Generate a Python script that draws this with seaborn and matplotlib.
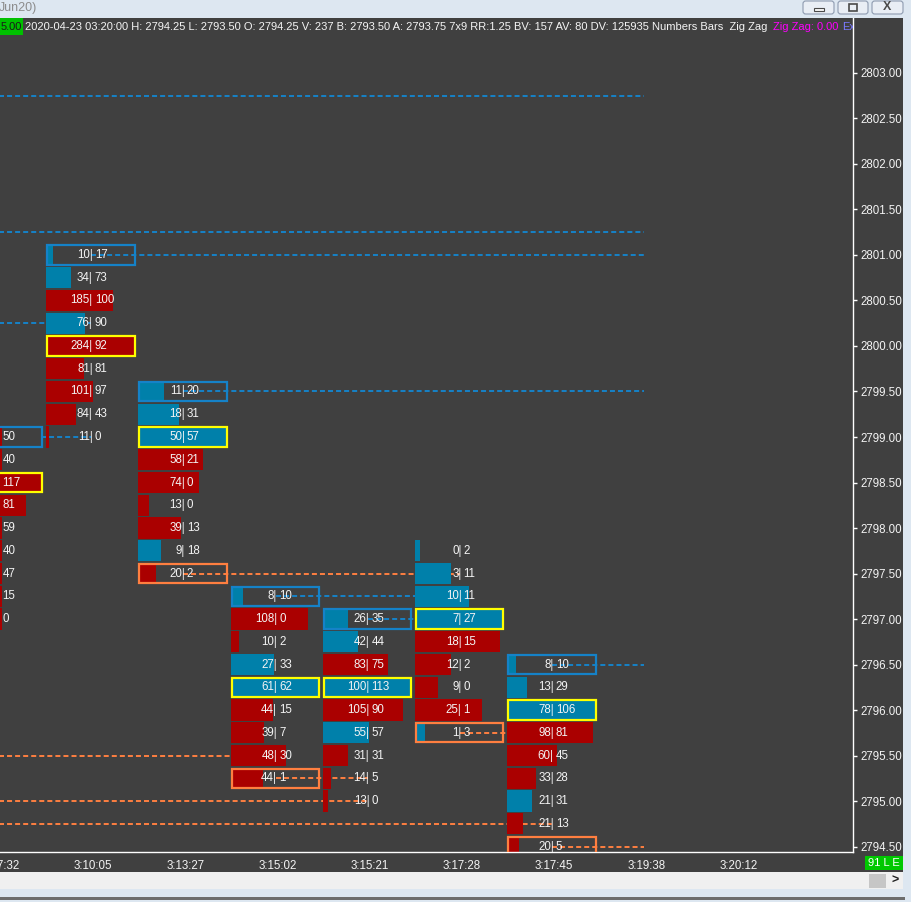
import numpy as np
import matplotlib
matplotlib.use("Agg")
import matplotlib.pyplot as plt
from matplotlib.patches import Rectangle, FancyBboxPatch
import seaborn as sns

W, H = 911, 902

# x axis (one column per bar)
times = ["3:07:32", "3:10:05", "3:13:27", "3:15:02", "3:15:21",
         "3:17:28", "3:17:45", "3:19:38", "3:20:12"]

# price of the top row of every footprint column, rows go down by 0.25
col_top = [2799.00, 2801.00, 2799.50, 2797.25, 2797.00, 2797.75, 2796.50]

# bid | ask per row (first column is cut by the left edge, its bids are guessed)
bids = [
    [96, 106, 150, 138, 87, 106, 99, 131, 146],
    [10, 34, 185, 76, 284, 81, 101, 84, 11],
    [11, 18, 50, 58, 74, 13, 39, 9, 20],
    [8, 108, 10, 27, 61, 44, 39, 48, 44],
    [26, 42, 83, 100, 105, 55, 31, 14, 13],
    [0, 3, 10, 7, 18, 12, 9, 25, 1],
    [8, 13, 78, 98, 60, 33, 21, 21, 20],
]
asks = [
    [50, 40, 117, 81, 59, 40, 47, 15, 0],
    [17, 73, 100, 90, 92, 81, 97, 43, 0],
    [20, 31, 57, 21, 0, 0, 13, 18, 2],
    [10, 0, 2, 33, 62, 15, 7, 30, 1],
    [35, 44, 75, 113, 90, 57, 31, 5, 0],
    [2, 11, 11, 27, 15, 2, 0, 1, 3],
    [10, 29, 106, 81, 45, 28, 31, 13, 5],
]
high_box = [True, True, True, True, True, False, True]
low_box = [False, False, True, True, False, True, True]

# unfinished levels: price, from column, to column
blue_price = [2802.75, 2801.25, 2801.00, 2800.25, 2799.50, 2799.00, 2797.25, 2797.00, 2796.50]
blue_from = [-1, -1, 1, -1, 2, 0.46, 3, 4, 6]
blue_to = [7, 7, 7, 1, 7, 1, 5, 5, 7]
orange_price = [2797.50, 2795.75, 2795.50, 2795.25, 2795.00, 2794.75, 2794.50]
orange_from = [2, 5, -1, 3, -1, -1, 6]
orange_to = [5, 6, 3, 4, 4, 6, 7]

price_ticks = np.arange(2794.5, 2803.01, 0.5)

BG = "#404040"
RED = "#aa0000"
BLUE = "#0080aa"
BOXBLUE = "#1582c8"
ORANGE = "#ff7f40"
YELLOW = "#ffff00"
TXT = "#f4f4f4"
LIGHT = "#dde7f1"

sns.set_theme(style="dark", rc={"axes.facecolor": BG, "figure.facecolor": BG,
                                "axes.grid": False, "lines.scale_dashes": False})
plt.rcParams["font.family"] = ["Liberation Sans", "DejaVu Sans"]

fig = plt.figure(figsize=(W / 100, H / 100), dpi=100)
ax = fig.add_axes([0, (H - 852) / H, 853 / W, (852 - 18) / H])

PX = 1 / 92.2  # one pixel in column units
ax.set_xlim(-1 * PX, 852 * PX)
ax.set_ylim(2794.440, 2803.604)

# dashed levels, below the bars
for p, a, b in zip(blue_price, blue_from, blue_to):
    ax.plot([a - 2 * PX, b - 2 * PX], [p, p], color=BOXBLUE, lw=1.4,
            dashes=(3.6, 2.2), zorder=1)
for p, a, b in zip(orange_price, orange_from, orange_to):
    ax.plot([a - 2 * PX, b - 2 * PX], [p, p], color=ORANGE, lw=1.4,
            dashes=(3.6, 2.2), zorder=1)

for c in range(len(col_top)):
    b = np.array(bids[c])
    a = np.array(asks[c])
    tot = b + a
    prices = col_top[c] - 0.25 * np.arange(len(b))
    widths = tot / tot.max() * 0.955
    colors = [RED if bb >= aa else BLUE for bb, aa in zip(b, a)]
    ax.barh(prices, widths, left=c - 0.51, height=0.235, color=colors,
            linewidth=0, zorder=2)

    boxes = [(int(np.argmax(tot)), YELLOW)]
    if high_box[c]:
        boxes.append((0, BOXBLUE))
    if low_box[c]:
        boxes.append((len(b) - 1, ORANGE))
    for r, col in boxes:
        ax.add_patch(Rectangle((c - 0.5, prices[r] - 0.105), 0.95, 0.21,
                               fill=False, edgecolor=col, lw=1.6, zorder=3))

    for p, bb, aa in zip(prices, b, a):
        if c > 0:  # the bid half of the first column lies off screen
            ax.text(c - 0.5 * PX, p, f"{bb}|", ha="right", va="center",
                    color=TXT, fontsize=8.3, zorder=4, clip_on=True)
        ax.text(c + 1.5 * PX, p, f"{aa}", ha="left", va="center",
                color=TXT, fontsize=8.3, zorder=4, clip_on=True)

ax.set_xticks(range(len(times)))
ax.set_xticklabels(times)
ax.set_yticks(price_ticks)
ax.set_yticklabels([f"{v:.2f}" for v in price_ticks])
ax.yaxis.tick_right()
ax.tick_params(axis="both", colors="white", labelcolor=TXT, labelsize=8.3,
               length=3, width=1, direction="out")
ax.tick_params(axis="x", pad=3)
ax.tick_params(axis="y", pad=2)
for s in ["top", "left"]:
    ax.spines[s].set_visible(False)
for s in ["right", "bottom"]:
    ax.spines[s].set_color("white")
    ax.spines[s].set_linewidth(1)


# ---- window decoration and info strip (pixel helpers) ----
def px_rect(x0, y0, x1, y1, color, z=5):
    fig.add_artist(Rectangle((x0 / W, 1 - y1 / H), (x1 - x0) / W, (y1 - y0) / H,
                             transform=fig.transFigure, color=color, lw=0, zorder=z))


def px_text(x, y, s, **kw):
    fig.text(x / W, 1 - y / H, s, zorder=7, **kw)


px_rect(0, 0, W, 18, LIGHT)
px_text(-1, 8, "Jun20)", color="#8c8c8c", fontsize=9, va="center", ha="left")
for x0, x1, sym in [(803, 834, "min"), (838, 868, "max"), (872, 903, "x")]:
    fig.add_artist(FancyBboxPatch((x0 / W, 1 - 14 / H), (x1 - x0) / W, 13 / H,
                                  boxstyle="round,pad=0,rounding_size=0.003",
                                  transform=fig.transFigure, fc="#e9eef5",
                                  ec="#8e9bb0", lw=0.8, zorder=6))
    cx = (x0 + x1) / 2
    if sym == "min":
        px_rect(cx - 5, 8, cx + 5, 11, "#f8f8f8", z=7)
        fig.add_artist(Rectangle(((cx - 5) / W, 1 - 11 / H), 10 / W, 3 / H,
                                 transform=fig.transFigure, fill=False,
                                 ec="#4a4a4a", lw=0.8, zorder=8))
    elif sym == "max":
        fig.add_artist(Rectangle(((cx - 4) / W, 1 - 11 / H), 8 / W, 7 / H,
                                 transform=fig.transFigure, fill=False,
                                 ec="#4a4a4a", lw=1.2, zorder=8))
    else:
        px_text(cx, 7, "X", color="#4a4a4a", fontsize=9, fontweight="bold",
                ha="center", va="center")

px_rect(903, 18, W, H, LIGHT)
px_rect(0, 872, 903, 889, "#f0f0f0")
px_rect(869, 874, 886, 888, "#c6c6c6", z=6)
px_text(895, 881, ">", color="#202020", fontsize=9, fontweight="bold",
        ha="center", va="center")
px_rect(0, 889, W, H, LIGHT)
px_rect(0, 897, 905, 900, "#6d6d6d", z=6)

px_rect(865, 856, 903, 870, "#00c800", z=6)
px_text(884, 863, "91 L E", color="white", fontsize=8, ha="center", va="center")

px_rect(0, 18, 23, 35, "#00c000", z=6)
t0 = fig.text(1 / W, 1 - 27 / H, "5.00", color="#1a1a1a", fontsize=8,
              ha="left", va="center", zorder=7)
info = ("2020-04-23 03:20:00 H: 2794.25 L: 2793.50 O: 2794.25 V: 237 "
        "B: 2793.50 A: 2793.75 7x9 RR:1.25 BV: 157 AV: 80 DV: 125935 "
        "Numbers Bars  Zig Zag ")
t1 = ax.annotate(info, xy=(1, 0.5), xycoords=t0, xytext=(2, 0),
                 textcoords="offset points", ha="left", va="center",
                 color=TXT, fontsize=8, clip_on=True, annotation_clip=False)
t2 = ax.annotate("Zig Zag: 0.00", xy=(1, 0.5), xycoords=t1, xytext=(1.5, 0),
                 textcoords="offset points", ha="left", va="center",
                 color="#ff00ff", fontsize=8, clip_on=True, annotation_clip=False)
ax.annotate("Ex", xy=(1, 0.5), xycoords=t2, xytext=(3, 0),
            textcoords="offset points", ha="left", va="center",
            color="#7a7aff", fontsize=8, clip_on=True, annotation_clip=False)

fig.savefig("out.png", dpi=100)
